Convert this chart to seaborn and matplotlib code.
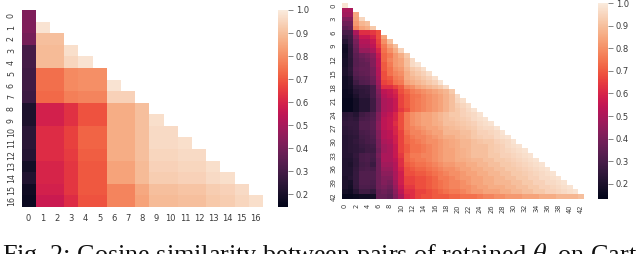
# cosine similarity heatmaps, two triangular panels and the figure caption

import numpy as np
import matplotlib
matplotlib.use('Agg')
import matplotlib.pyplot as plt
import seaborn as sn

# values in percent, one row per line, lower triangle only
LEFT_ROWS = [
    [42],
    [42, 98],
    [40, 90, 90],
    [30, 89, 89, 97],
    [30, 89, 89, 95, 98],
    [29, 74, 74, 79, 80, 80],
    [29, 74, 74, 79, 80, 80, 98],
    [28, 73, 73, 77, 78, 78, 94, 94],
    [21, 59, 59, 63, 69, 69, 86, 86, 90],
    [21, 59, 59, 63, 69, 69, 86, 86, 90, 97],
    [24, 62, 62, 66, 72, 72, 86, 86, 90, 96, 96],
    [24, 62, 62, 66, 72, 72, 86, 86, 90, 96, 96, 97],
    [23, 62, 62, 65, 71, 71, 86, 86, 90, 95, 95, 96, 96],
    [19, 60, 60, 64, 70, 70, 84, 84, 89, 94, 94, 95, 95, 97],
    [22, 60, 60, 64, 70, 70, 84, 84, 89, 93, 93, 94, 94, 96, 97],
    [18, 59, 59, 64, 70, 70, 78, 78, 85, 90, 90, 91, 91, 93, 94, 96],
    [17, 57, 57, 62, 69, 69, 78, 78, 84, 89, 89, 90, 90, 92, 93, 95, 97],
]

RIGHT_ROWS = [
    [98],
    [50, 50],
    [48, 48, 85],
    [42, 42, 84, 95],
    [38, 38, 82, 88, 90],
    [34, 36, 78, 84, 86, 92],
    [30, 30, 50, 62, 62, 64, 68],
    [26, 28, 44, 56, 56, 60, 68, 84],
    [22, 27, 40, 52, 52, 56, 66, 80, 90],
    [18, 25, 38, 50, 50, 54, 64, 76, 84, 90],
    [17, 24, 36, 46, 46, 50, 60, 74, 80, 86, 94],
    [18, 24, 34, 38, 40, 44, 56, 72, 76, 82, 86, 92],
    [19, 23, 33, 36, 38, 42, 54, 72, 78, 82, 84, 90, 96],
    [19, 23, 33, 35, 36, 42, 54, 70, 76, 82, 84, 90, 96, 98],
    [20, 24, 34, 36, 36, 40, 52, 70, 74, 80, 82, 88, 92, 94, 97],
    [20, 23, 33, 35, 36, 40, 52, 68, 74, 78, 80, 86, 90, 92, 94, 97],
    [18, 20, 31, 33, 34, 38, 50, 68, 70, 76, 78, 86, 88, 90, 92, 94, 97],
    [17, 19, 28, 32, 33, 37, 48, 66, 68, 74, 76, 84, 86, 88, 90, 92, 94, 98],
    [17, 18, 24, 25, 26, 30, 45, 62, 62, 66, 70, 78, 80, 84, 86, 88, 90, 92, 96],
    [16, 17, 22, 24, 25, 30, 42, 54, 56, 60, 68, 72, 76, 78, 80, 82, 84, 86, 88, 92],
    [16, 16, 20, 24, 24, 30, 40, 52, 55, 58, 66, 70, 74, 75, 78, 80, 82, 84, 87, 90, 96],
    [15, 15, 18, 22, 22, 28, 38, 50, 52, 56, 66, 70, 74, 76, 78, 80, 82, 84, 87, 90, 95, 97],
    [15, 15, 18, 22, 22, 28, 38, 50, 52, 56, 66, 70, 74, 76, 78, 80, 82, 84, 87, 90, 93, 95, 97],
    [15, 15, 18, 22, 22, 28, 38, 50, 52, 56, 64, 68, 74, 76, 78, 80, 82, 84, 87, 90, 92, 94, 96, 98],
    [23, 24, 22, 28, 30, 32, 42, 52, 55, 60, 68, 76, 80, 82, 84, 84, 86, 88, 90, 92, 92, 94, 95, 96, 98],
    [24, 25, 24, 30, 31, 33, 42, 54, 56, 60, 68, 76, 80, 82, 84, 84, 86, 88, 90, 91, 92, 93, 94, 96, 97, 98],
    [25, 26, 26, 32, 32, 34, 44, 54, 56, 62, 68, 76, 80, 82, 84, 84, 86, 87, 90, 90, 91, 92, 93, 94, 96, 97, 98],
    [24, 25, 26, 32, 32, 34, 44, 54, 56, 60, 68, 76, 78, 80, 82, 84, 84, 86, 88, 89, 90, 91, 92, 93, 95, 96, 96, 98],
    [23, 24, 25, 30, 31, 33, 42, 52, 54, 60, 66, 74, 78, 78, 80, 82, 84, 84, 88, 88, 88, 90, 90, 92, 94, 94, 95, 96, 98],
    [22, 23, 24, 29, 30, 32, 42, 52, 54, 58, 66, 72, 76, 78, 78, 80, 82, 84, 86, 86, 88, 89, 90, 92, 93, 94, 94, 96, 97, 98],
    [22, 23, 25, 28, 30, 31, 40, 50, 52, 58, 66, 72, 74, 76, 78, 80, 80, 82, 84, 85, 86, 88, 88, 90, 91, 92, 92, 94, 95, 96, 98],
    [22, 23, 24, 27, 28, 29, 40, 48, 50, 56, 66, 70, 74, 74, 76, 78, 80, 82, 84, 85, 86, 88, 88, 90, 90, 90, 92, 93, 94, 96, 97, 98],
    [22, 23, 24, 26, 28, 28, 38, 48, 50, 56, 66, 70, 74, 74, 76, 78, 80, 82, 84, 84, 86, 87, 88, 90, 90, 90, 92, 93, 94, 95, 96, 97, 98],
    [22, 22, 25, 30, 31, 30, 40, 50, 50, 56, 64, 72, 76, 76, 78, 78, 80, 82, 84, 84, 86, 87, 88, 90, 90, 90, 92, 92, 94, 94, 95, 96, 97, 98],
    [21, 21, 24, 30, 31, 29, 38, 50, 50, 54, 62, 72, 74, 76, 76, 78, 80, 82, 84, 84, 86, 86, 87, 88, 88, 90, 90, 92, 92, 93, 94, 95, 96, 97, 98],
    [21, 20, 24, 29, 30, 27, 38, 48, 48, 52, 62, 70, 72, 74, 74, 76, 78, 80, 82, 82, 84, 84, 86, 86, 88, 88, 90, 90, 92, 92, 93, 94, 95, 96, 97, 98],
    [21, 21, 25, 30, 31, 30, 38, 46, 46, 52, 60, 68, 70, 72, 72, 74, 76, 78, 80, 80, 82, 84, 84, 86, 86, 88, 88, 90, 90, 92, 92, 93, 94, 95, 96, 97, 98],
    [21, 21, 26, 32, 32, 32, 38, 44, 44, 50, 58, 68, 68, 70, 70, 72, 74, 76, 78, 80, 80, 82, 84, 84, 86, 86, 88, 88, 90, 90, 92, 92, 93, 94, 95, 96, 97, 98],
    [20, 22, 26, 32, 32, 32, 38, 42, 42, 50, 58, 66, 66, 68, 68, 70, 72, 76, 76, 78, 80, 82, 82, 84, 84, 86, 86, 88, 88, 90, 90, 92, 92, 94, 94, 96, 96, 97, 98],
    [20, 19, 26, 32, 32, 31, 38, 42, 40, 48, 58, 66, 66, 68, 68, 70, 72, 74, 76, 78, 78, 80, 82, 84, 84, 86, 86, 88, 88, 88, 90, 90, 92, 92, 94, 94, 96, 96, 97, 98],
    [20, 18, 25, 31, 31, 30, 38, 40, 38, 46, 56, 64, 64, 68, 68, 70, 72, 74, 76, 78, 78, 80, 80, 82, 84, 84, 86, 86, 86, 88, 88, 90, 90, 92, 92, 94, 94, 95, 96, 97, 98],
    [18, 17, 22, 28, 28, 26, 36, 38, 36, 44, 54, 62, 62, 66, 66, 68, 70, 72, 74, 76, 76, 78, 80, 82, 82, 84, 84, 84, 86, 86, 88, 88, 90, 90, 92, 92, 94, 94, 95, 96, 97, 98],
    [15, 15, 16, 17, 17, 18, 36, 36, 34, 42, 50, 60, 62, 66, 68, 68, 70, 70, 70, 72, 72, 74, 74, 74, 76, 78, 78, 80, 80, 82, 82, 82, 84, 84, 84, 86, 86, 86, 88, 88, 88, 88, 90],
]

CAPTION = r'Fig. 2: Cosine similarity between pairs of retained $\theta_t$ on Cart'


def to_matrix(rows):
    n = len(rows)
    mat = np.full((n, n), np.nan)
    for i, row in enumerate(rows):
        assert len(row) == i + 1, f'row {i} has {len(row)} values'
        mat[i, :i + 1] = np.array(row) / 100
    return mat


W, H = 640, 254


def px_axes(fig, x0, x1, y0, y1):
    return fig.add_axes([x0 / W, 1 - y1 / H, (x1 - x0) / W, (y1 - y0) / H])


def draw_panel(fig, rows, box, cbar_x, vmin, xstep, ystep, xrot, xsize, ysize, xpad):
    ax = px_axes(fig, *box)
    cax = px_axes(fig, cbar_x, cbar_x + 10, box[2], box[3])
    mat = to_matrix(rows)
    sn.heatmap(mat, mask=np.isnan(mat), cmap='rocket', vmin=vmin, vmax=1.0,
               ax=ax, cbar_ax=cax, xticklabels=xstep, yticklabels=ystep)
    ax.tick_params(axis='x', length=0, pad=xpad, labelsize=xsize, labelcolor='#3a3a3a', labelrotation=xrot)
    ax.tick_params(axis='y', length=0, pad=4, labelsize=ysize, labelcolor='#3a3a3a', labelrotation=90)
    for t in ax.get_yticklabels():
        t.set_va('center')
    cax.set_yticks(np.arange(0.2, 1.01, 0.1))
    cax.tick_params(length=3.5, width=0.5, pad=2, labelsize=6, color='#555555', labelcolor='#3a3a3a')


fig = plt.figure(figsize=(W / 100, H / 100), dpi=100)

draw_panel(fig, LEFT_ROWS, (21.5, 263, 10, 207), 278, 0.145, 1, 1, 0, 6, 5.7, 5)
draw_panel(fig, RIGHT_ROWS, (342, 584, 3, 198.5), 598, 0.135, 2, 3, 90, 4.8, 5, 4)

fig.text(2 / W, (H - 262) / H, CAPTION, fontsize=18.8, va='baseline', ha='left',
         family='Liberation Serif', math_fontfamily='stix', color='#111111')

plt.savefig('out.png', dpi=100)
